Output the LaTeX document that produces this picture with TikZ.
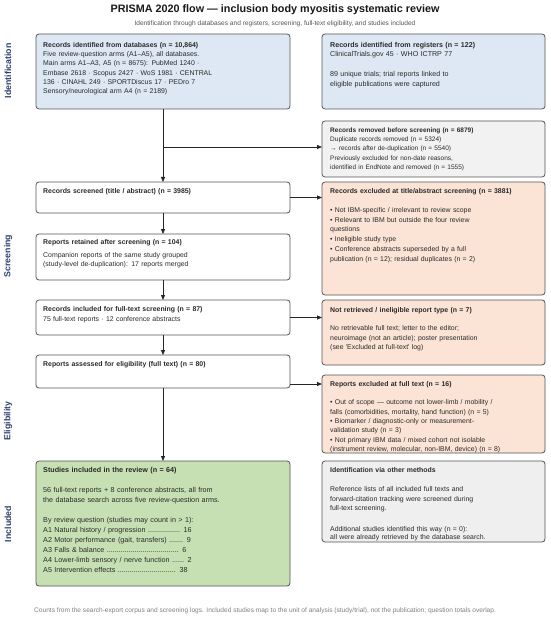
\documentclass[tikz,border=0pt]{standalone}
\usepackage{fontspec}
\setmainfont{Liberation Sans}
\usetikzlibrary{arrows.meta,calc}
\definecolor{bluefill}{HTML}{DDE8F4}
\definecolor{grayfill}{HTML}{F2F2F2}
\definecolor{otherfill}{HTML}{EFEFEF}
\definecolor{salmonfill}{HTML}{FBE4D6}
\definecolor{greenfill}{HTML}{C6E0B4}
\definecolor{edgecol}{HTML}{555555}
\definecolor{navy}{HTML}{2B4170}
\definecolor{bodytext}{HTML}{2A2A2A}
\definecolor{subgray}{HTML}{555555}
\definecolor{footgray}{HTML}{808080}
\newcommand\dotrun[1]{\foreach \k in {1,...,#1}{.}}
\tikzset{
  box/.style={draw=edgecol, line width=0.8pt, rounded corners=3pt, anchor=north west, inner sep=0pt, outer sep=0pt},
  txt/.style={anchor=base west, inner sep=0pt, align=left, text width=#1, text=bodytext, font=\fontsize{6.9}{9.4}\selectfont},
  arr/.style={-{Triangle[length=5pt,width=4pt]}, line width=0.8pt, draw=black!85},
  phase/.style={rotate=90, font=\fontsize{8.8}{10}\selectfont\bfseries, text=navy, inner sep=0pt}
}
\begin{document}
\begin{tikzpicture}[x=1pt,y=-1pt]
\useasboundingbox[fill=white] (0,0) rectangle (550,620);

% title
\node[font=\fontsize{10.8}{12}\selectfont\bfseries, text=black!90] (title) at (275,10) {PRISMA 2020 flow — inclusion body myositis systematic review};
\node[font=\fontsize{6.6}{7.5}\selectfont, text=subgray] (subtitle) at (275,23.5) {Identification through databases and registers, screening, full-text eligibility, and studies included};

% phase labels
\node[phase] (ph1) at (8,71) {Identification};
\node[phase] (ph2) at (8,256) {Screening};
\node[phase] (ph3) at (8,421) {Eligibility};
\node[phase] (ph4) at (8,524) {Included};

% boxes
\node[box, fill=bluefill, minimum width=254pt, minimum height=75pt] (db) at (36,34) {};
\node[box, fill=bluefill, minimum width=223pt, minimum height=75pt] (reg) at (322,34) {};
\node[box, fill=grayfill, minimum width=223pt, minimum height=56pt] (removed) at (322,121) {};
\node[box, fill=white, minimum width=254pt, minimum height=31pt] (screened) at (36,182) {};
\node[box, fill=salmonfill, minimum width=223pt, minimum height=113pt] (excl1) at (322,182) {};
\node[box, fill=white, minimum width=254pt, minimum height=46pt] (retained) at (36,234) {};
\node[box, fill=white, minimum width=254pt, minimum height=35pt] (fulltext) at (36,300) {};
\node[box, fill=salmonfill, minimum width=223pt, minimum height=65pt] (notret) at (322,300) {};
\node[box, fill=white, minimum width=254pt, minimum height=33pt] (assessed) at (36,355) {};
\node[box, fill=salmonfill, minimum width=223pt, minimum height=78pt] (exclft) at (322,375) {};
\node[box, fill=greenfill, minimum width=254pt, minimum height=125pt] (studies) at (36,461) {};
\node[box, fill=otherfill, minimum width=223pt, minimum height=81pt] (other) at (322,461) {};

% texts
\node[txt=250pt, font=\fontsize{6.9}{9.3}\selectfont] (dbt) at (43,47.3) {\textbf{Records identified from databases (n = 10,864)}\\
Five review-question arms (A1–A5), all databases.\\
Main arms A1–A3, A5 (n = 8675): PubMed 1240 ·\\
Embase 2618 · Scopus 2427 · WoS 1981 · CENTRAL\\
136 · CINAHL 249 · SPORTDiscus 17 · PEDro 7\\
Sensory/neurological arm A4 (n = 2189)};

\node[txt=214pt, font=\fontsize{7.1}{9.7}\selectfont] (regt) at (330,47.3) {\textbf{Records identified from registers (n = 122)}\\
ClinicalTrials.gov 45 · WHO ICTRP 77\\[9.7pt]
89 unique trials; trial reports linked to\\
eligible publications were captured};

\node[txt=214pt, font=\fontsize{6.5}{9.3}\selectfont] (remt) at (330,132.3) {\textbf{Records removed before screening (n = 6879)}\\
Duplicate records removed (n = 5324)\\
→ records after de-duplication (n = 5540)\\
Previously excluded for non-date reasons,\\
identified in EndNote and removed (n = 1555)};

\node[txt=250pt] (scrt) at (43,193.3) {\textbf{Records screened (title / abstract) (n = 3985)}};

\node[txt=214pt, font=\fontsize{6.9}{9.8}\selectfont] (ex1t) at (330,194) {\textbf{Records excluded at title/abstract screening (n = 3881)}\\[8.5pt]
• Not IBM-specific / irrelevant to review scope\\
• Relevant to IBM but outside the four review\\
questions\\
• Ineligible study type\\
• Conference abstracts superseded by a full\\
publication (n = 12); residual duplicates (n = 2)};

\node[txt=250pt, font=\fontsize{6.9}{9.3}\selectfont] (rett) at (43,244) {\textbf{Reports retained after screening (n = 104)}\\[4pt]
Companion reports of the same study grouped\\
(study-level de-duplication): 17 reports merged};

\node[txt=250pt, font=\fontsize{6.9}{9.8}\selectfont] (ftt) at (43,311.3) {\textbf{Records included for full-text screening (n = 87)}\\
75 full-text reports · 12 conference abstracts};

\node[txt=214pt, font=\fontsize{6.9}{9.5}\selectfont] (nrt) at (330,312.3) {\textbf{Not retrieved / ineligible report type (n = 7)}\\[8.8pt]
No retrievable full text; letter to the editor;\\
neuroimage (not an article); poster presentation\\
(see \textquotesingle Excluded at full-text\textquotesingle\ log)};

\node[txt=250pt] (ast) at (43,366.3) {\textbf{Reports assessed for eligibility (full text) (n = 80)}};

\node[txt=214pt, font=\fontsize{6.9}{9.33}\selectfont] (eft) at (330,386.3) {\textbf{Reports excluded at full text (n = 16)}\\[9.3pt]
• Out of scope — outcome not lower-limb / mobility /\\
falls (comorbidities, mortality, hand function) (n = 5)\\
• Biomarker / diagnostic-only or measurement-\\
validation study (n = 3)\\
• Not primary IBM data / mixed cohort not isolable\\
(instrument review, molecular, non-IBM, device) (n = 8)};

\node[txt=250pt, font=\fontsize{7.2}{10}\selectfont] (stt) at (43,472.3) {\textbf{Studies included in the review (n = 64)}\\[10pt]
56 full-text reports + 8 conference abstracts, all from\\
the database search across five review-question arms.\\[10pt]
By review question (studies may count in > 1):\\
A1 Natural history / progression \dotrun{16} 16\\
A2 Motor performance (gait, transfers) \dotrun{7} 9\\
A3 Falls \& balance \dotrun{36} 6\\
A4 Lower-limb sensory / nerve function \dotrun{6} 2\\
A5 Intervention effects \dotrun{29} 38};

\node[txt=214pt, font=\fontsize{6.9}{9.7}\selectfont] (ott) at (330,472.3) {\textbf{Identification via other methods}\\[9.3pt]
Reference lists of all included full texts and\\
forward-citation tracking were screened during\\
full-text screening.\\[10.6pt]
Additional studies identified this way (n = 0):\\[-1pt]
all were already retrieved by the database search.};

% footer
\node[anchor=base west, inner sep=0pt, font=\fontsize{6.6}{7.5}\selectfont, text=footgray] (foot) at (34,612) {Counts from the search-export corpus and screening logs. Included studies map to the unit of analysis (study/trial), not the publication; question totals overlap.};

% connectors
\coordinate (b1) at (163,147);
\coordinate (b2) at (0,384);
\draw[arr] (db.south) -- (screened.north);
\draw[arr] (b1) -- (b1 -| removed.west);
\draw[arr] (screened.east) -- (screened.east -| excl1.west);
\draw[arr] (screened.south) -- (retained.north);
\draw[arr] (retained.south) -- (fulltext.north);
\draw[arr] (fulltext.east) -- (fulltext.east -| notret.west);
\draw[arr] (fulltext.south) -- (assessed.north);
\draw[arr] (assessed.south) -- (studies.north);
\draw[arr] (b2 -| assessed.east) -- (b2 -| exclft.west);
\end{tikzpicture}
\end{document}
